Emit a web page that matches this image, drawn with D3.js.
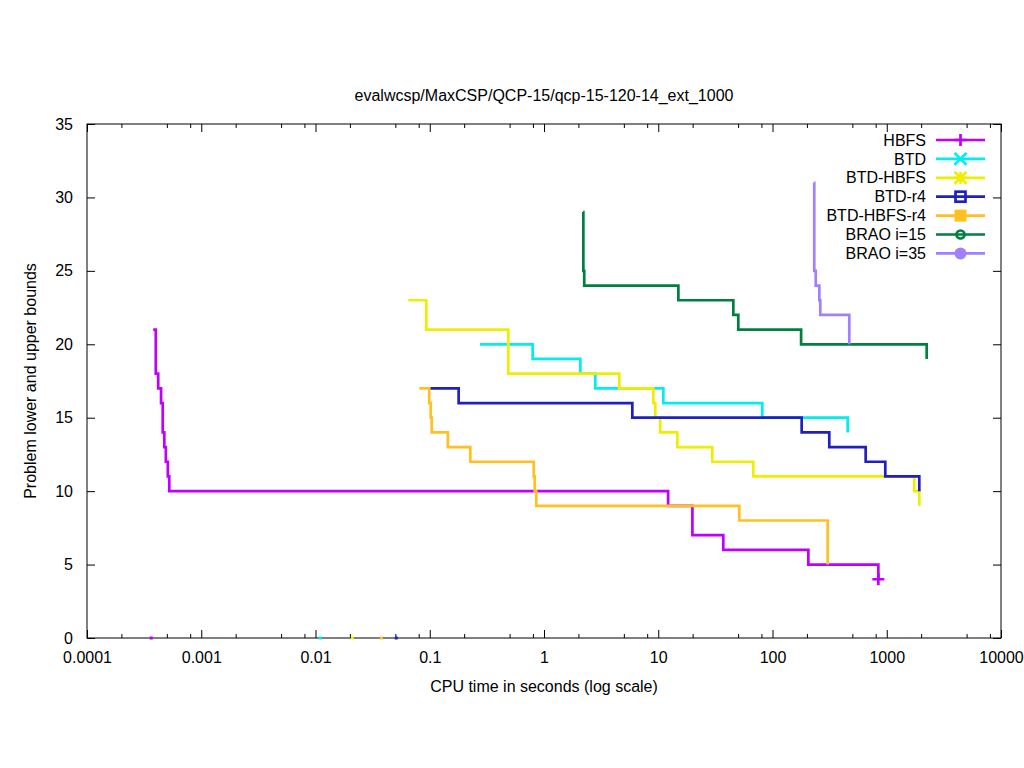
<!DOCTYPE html>
<html>
<head>
<meta charset="utf-8">
<script src="https://cdn.jsdelivr.net/npm/d3@7"></script>
<style>
  body { margin: 0; background: #fff; }
  text { font-family: "Liberation Sans", Arial, sans-serif; font-size: 16px; fill: #000; }
</style>
</head>
<body>
<svg></svg>
<script>
'use strict';

var SVG_SIZE = { width: 1024, height: 768 };
var MARGIN_SIZE = { left: 87, right: 23, top: 124, bottom: 130 };

// series: [time in seconds, bound]
var hbfs = [[3.8e-4, 21], [4.0e-4, 18], [4.2e-4, 17], [4.45e-4, 16], [4.6e-4, 14], [4.75e-4, 13],
  [4.9e-4, 12], [5.1e-4, 11], [5.25e-4, 10], [12.2, 9], [19.9, 7], [37.1, 6], [206, 5], [844, 4]];
var btd = [[0.275, 20], [0.796, 19], [2.08, 18], [2.81, 17], [11.07, 16], [81.4, 15], [455, 14]];
var btdHbfs = [[0.0649, 23], [0.0933, 21], [0.487, 18], [4.56, 17], [9.05, 16], [9.42, 15], [10.4, 14],
  [14.7, 13], [29.7, 12], [67.9, 11], [1742, 10], [1927, 9]];
var btdR4 = [[0.1, 17], [0.179, 16], [5.93, 15], [180, 14], [314, 13], [654, 12], [971, 11], [1927, 10]];
var btdHbfsR4 = [[0.081, 17], [0.099, 16], [0.102, 15], [0.104, 14], [0.144, 13], [0.2265, 12],
  [0.813, 11], [0.83, 10], [0.856, 9], [51.2, 8], [304, 5]];
var brao15 = [[2.2, 29], [2.21, 25], [2.25, 24], [15, 23], [45.4, 22], [50.2, 21], [178, 20], [2237, 19]];
var brao35 = [[230, 31], [232, 25], [239, 24], [257, 23], [262, 22], [470, 20]];

// lower bound (0) reached at these times
var lowerBounds = [['HBFS', 3.65e-4], ['BTD', 0.011], ['BTD-HBFS', 0.021], ['BTD-HBFS-r4', 0.0377], ['BTD-r4', 0.0509]];
// final marked point of HBFS
var hbfsMark = [844, 4];

var seriesNames = ['HBFS', 'BTD', 'BTD-HBFS', 'BTD-r4', 'BTD-HBFS-r4', 'BRAO i=15', 'BRAO i=35'];
var seriesData = [hbfs, btd, btdHbfs, btdR4, btdHbfsR4, brao15, brao35];
var seriesColors = ['#c000ff', '#00eeee', '#eeee00', '#2020c0', '#ffc020', '#008040', '#a080ff'];
var seriesMarkers = ['plus', 'cross', 'star', 'square', 'fsquare', 'circle', 'fcircle'];

var xTicks = [0.0001, 0.001, 0.01, 0.1, 1, 10, 100, 1000, 10000];
var xTickLabels = ['0.0001', '0.001', '0.01', '0.1', '1', '10', '100', '1000', '10000'];
var yTicks = [0, 5, 10, 15, 20, 25, 30, 35];

var svg = d3.select('svg')
    .attr('width', SVG_SIZE.width).attr('height', SVG_SIZE.height);

var displayWidth = SVG_SIZE.width - MARGIN_SIZE.left - MARGIN_SIZE.right;
var displayHeight = SVG_SIZE.height - MARGIN_SIZE.top - MARGIN_SIZE.bottom;

var xScale = d3.scaleLog().domain([0.0001, 10000]).range([0, displayWidth]);
var yScale = d3.scaleLinear().domain([0, 35]).range([displayHeight, 0]);

var plot = svg.append('g')
    .attr('transform', 'translate(' + MARGIN_SIZE.left + ',' + MARGIN_SIZE.top + ')');

// minor ticks at 2, 5, 8 in each decade
var minorTicks = [];
xTicks.slice(0, -1).forEach(function (d) {
    [2, 5, 8].forEach(function (m) { minorTicks.push(d * m); });
});

function styleAxis(g) {
    g.select('.domain').remove();
    g.selectAll('line').attr('stroke', '#000').attr('stroke-width', 1);
    g.selectAll('text').style('font-size', '16px').attr('fill', '#000')
        .style('font-family', '"Liberation Sans", Arial, sans-serif');
}

// bottom + top ticks
plot.append('g').attr('transform', 'translate(0,' + displayHeight + ')')
    .call(d3.axisBottom(xScale).tickValues(xTicks).tickSize(-8).tickPadding(14)
        .tickFormat(function (d, i) { return xTickLabels[i]; }))
    .call(styleAxis);
plot.append('g').attr('transform', 'translate(0,' + displayHeight + ')')
    .call(d3.axisBottom(xScale).tickValues(minorTicks).tickSize(-4).tickFormat(''))
    .call(styleAxis);
plot.append('g')
    .call(d3.axisTop(xScale).tickValues(xTicks).tickSize(-8).tickFormat(''))
    .call(styleAxis);
plot.append('g')
    .call(d3.axisTop(xScale).tickValues(minorTicks).tickSize(-4).tickFormat(''))
    .call(styleAxis);

// left + right ticks
plot.append('g')
    .call(d3.axisLeft(yScale).tickValues(yTicks).tickSize(-8).tickPadding(14))
    .call(styleAxis);
plot.append('g').attr('transform', 'translate(' + displayWidth + ',0)')
    .call(d3.axisRight(yScale).tickValues(yTicks).tickSize(-8).tickFormat(''))
    .call(styleAxis);

// border
plot.append('rect')
    .attr('width', displayWidth).attr('height', displayHeight)
    .attr('fill', 'none').attr('stroke', '#000').attr('stroke-width', 1);

// step lines
var line = d3.line()
    .x(function (d) { return xScale(d[0]); })
    .y(function (d) { return yScale(d[1]); })
    .curve(d3.curveStepAfter);

seriesData.forEach(function (data, i) {
    plot.append('path')
        .datum(data)
        .attr('d', line)
        .attr('fill', 'none')
        .attr('stroke', seriesColors[i])
        .attr('stroke-width', 2.7);
});

// lower bound dots on the axis
plot.selectAll('.lb').data(lowerBounds).enter().append('rect')
    .attr('x', function (d) { return xScale(d[1]) - 1.5; })
    .attr('y', yScale(0) - 1.5)
    .attr('width', 3).attr('height', 3)
    .attr('fill', function (d) { return seriesColors[seriesNames.indexOf(d[0])]; });

function drawMarker(g, type, color) {
    var s = 6;
    if (type === 'plus' || type === 'star') {
        g.append('path').attr('d', 'M' + (-s) + ',0H' + s + 'M0,' + (-s) + 'V' + s)
            .attr('stroke', color).attr('stroke-width', 2.7);
    }
    if (type === 'cross' || type === 'star') {
        g.append('path').attr('d', 'M' + (-s) + ',' + (-s) + 'L' + s + ',' + s + 'M' + (-s) + ',' + s + 'L' + s + ',' + (-s))
            .attr('stroke', color).attr('stroke-width', 2.7);
    }
    if (type === 'square') {
        g.append('rect').attr('x', -5).attr('y', -5).attr('width', 10).attr('height', 10)
            .attr('fill', 'none').attr('stroke', color).attr('stroke-width', 2.7);
    }
    if (type === 'fsquare') {
        g.append('rect').attr('x', -6).attr('y', -6).attr('width', 12).attr('height', 12).attr('fill', color);
    }
    if (type === 'circle') {
        g.append('circle').attr('r', 4).attr('fill', 'none').attr('stroke', color).attr('stroke-width', 2.7);
    }
    if (type === 'fcircle') {
        g.append('circle').attr('r', 6).attr('fill', color);
    }
}

// HBFS end point marker
drawMarker(plot.append('g')
    .attr('transform', 'translate(' + xScale(hbfsMark[0]) + ',' + yScale(hbfsMark[1]) + ')'), 'plus', seriesColors[0]);

// legend
var legend = svg.append('g');
seriesNames.forEach(function (name, i) {
    var y = 140 + i * 18.9;
    legend.append('text').attr('x', 926).attr('y', y).attr('dy', '0.35em')
        .attr('text-anchor', 'end').text(name);
    legend.append('line').attr('x1', 936).attr('x2', 985).attr('y1', y).attr('y2', y)
        .attr('stroke', seriesColors[i]).attr('stroke-width', 2.7);
    drawMarker(legend.append('g').attr('transform', 'translate(960.5,' + y + ')'), seriesMarkers[i], seriesColors[i]);
});

// titles
svg.append('text')
    .attr('x', MARGIN_SIZE.left + displayWidth / 2).attr('y', 101)
    .attr('text-anchor', 'middle')
    .text('evalwcsp/MaxCSP/QCP-15/qcp-15-120-14_ext_1000');
svg.append('text')
    .attr('x', MARGIN_SIZE.left + displayWidth / 2).attr('y', 692)
    .attr('text-anchor', 'middle')
    .text('CPU time in seconds (log scale)');
svg.append('text')
    .attr('transform', 'translate(36,' + (MARGIN_SIZE.top + displayHeight / 2) + ') rotate(-90)')
    .attr('text-anchor', 'middle')
    .text('Problem lower and upper bounds');
</script>
</body>
</html>
